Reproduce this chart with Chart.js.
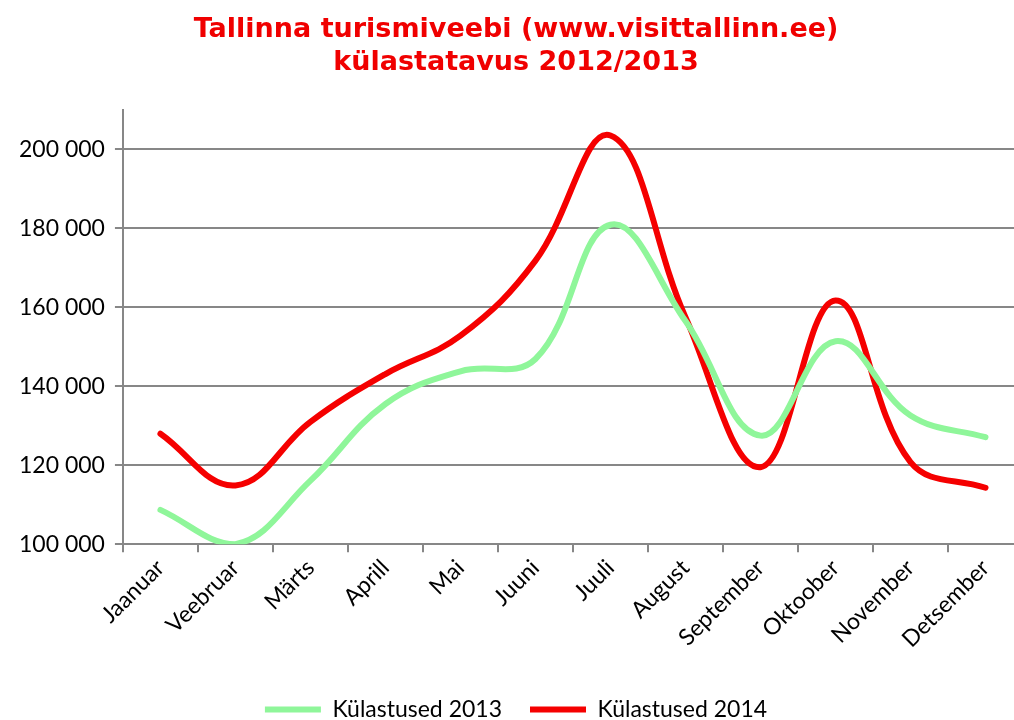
<!DOCTYPE html>
<html>
<head>
<meta charset="utf-8">
<script src="https://cdn.jsdelivr.net/npm/chart.js@4/dist/chart.umd.min.js"></script>
<style>
  html, body { margin: 0; background: #fff; overflow: hidden; }
  #wrap { width: 1040px; height: 720px; }
</style>
</head>
<body>
<div id="wrap"><canvas id="visitsChart"></canvas></div>
<script>
const months = ['Jaanuar', 'Veebruar', 'Märts', 'Aprill', 'Mai', 'Juuni',
                'Juuli', 'August', 'September', 'Oktoober', 'November', 'Detsember'];
const visits2013 = [108700, 100000, 116100, 135500, 143800, 146900,
                    180900, 156500, 127500, 151400, 132600, 127100];
const visits2014 = [128000, 114900, 131000, 143100, 152800, 171800,
                    203500, 157500, 119500, 161700, 120800, 114300];
const yTicks = [100000, 120000, 140000, 160000, 180000, 200000];

const gridGrey = '#878787';
const labelFont = { family: 'Lato, "Open Sans", sans-serif', size: 23 };

const ctx = document.getElementById('visitsChart').getContext('2d');
const visitsChart = new Chart(ctx, {
    type: 'line',
    data: {
        labels: months,
        datasets: [{
            label: 'Külastused 2013',
            data: visits2013,
            borderColor: '#8ff69a',
            backgroundColor: '#8ff69a',
            borderWidth: 6,
            tension: 0.4,
            pointRadius: 0,
            borderCapStyle: 'round'
        }, {
            label: 'Külastused 2014',
            data: visits2014,
            borderColor: '#f50000',
            backgroundColor: '#f50000',
            borderWidth: 6,
            tension: 0.4,
            pointRadius: 0,
            borderCapStyle: 'round'
        }]
    },
    options: {
        responsive: true,
        maintainAspectRatio: false,
        animation: false,
        layout: { padding: { left: 9, right: 17, bottom: -11 } },
        plugins: {
            title: {
                display: true,
                text: ['Tallinna turismiveebi (www.visittallinn.ee)', 'külastatavus 2012/2013'],
                color: '#f00000',
                font: { family: '"DejaVu Sans", Verdana, sans-serif', size: 27, weight: 'bold', lineHeight: 1.2 },
                padding: { top: 14, bottom: 31 }
            },
            legend: {
                position: 'bottom',
                labels: {
                    color: '#000',
                    font: labelFont,
                    usePointStyle: true,
                    pointStyle: 'line',
                    pointStyleWidth: 56,
                    boxHeight: 6,
                    padding: 28
                }
            },
            tooltip: { enabled: false }
        },
        scales: {
            x: {
                offset: true,
                afterFit: function (scale) {
                    scale.height += 15;
                },
                grid: {
                    display: true,
                    offset: true,
                    drawOnChartArea: false,
                    drawTicks: true,
                    tickLength: 8,
                    color: gridGrey,
                    lineWidth: 2
                },
                border: { color: gridGrey, width: 2 },
                ticks: {
                    color: '#000',
                    font: labelFont,
                    minRotation: 45,
                    maxRotation: 45,
                    padding: 2
                }
            },
            y: {
                min: 100000,
                max: 210000,
                afterBuildTicks: function (scale) {
                    scale.ticks = yTicks.map(v => ({ value: v }));
                },
                grid: {
                    color: gridGrey,
                    lineWidth: 2,
                    tickLength: 8
                },
                border: { color: gridGrey, width: 2 },
                ticks: {
                    color: '#000',
                    font: labelFont,
                    padding: 10,
                    callback: function (value) {
                        return String(value).replace(/\B(?=(\d{3})+(?!\d))/g, ' ');
                    }
                }
            }
        }
    }
});
</script>
</body>
</html>
